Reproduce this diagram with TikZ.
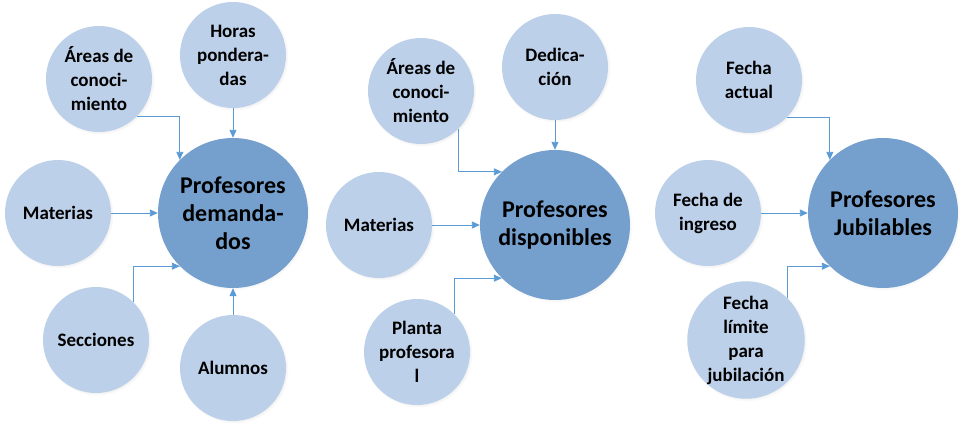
\documentclass[tikz,border=0pt]{standalone}
\usepackage{fontspec}
\setmainfont{Carlito}
\usetikzlibrary{arrows.meta,shadows}
\definecolor{paleblue}{RGB}{189, 208, 233}
\definecolor{midblue}{RGB}{117, 160, 206}
\definecolor{arrowblue}{RGB}{91, 155, 213}

\begin{document}
\begin{tikzpicture}[x=1pt,y=-1pt,
    small/.style={circle,fill=paleblue,minimum size=106pt,inner sep=0pt,align=center,
        font=\fontsize{19}{24}\selectfont\bfseries,
        circular drop shadow={shadow scale=1.03,shadow xshift=1pt,shadow yshift=-1pt,opacity=0.25}},
    big/.style={circle,fill=midblue,minimum size=150pt,inner sep=0pt,align=center,
        font=\fontsize{24}{28}\selectfont\bfseries,
        circular drop shadow={shadow scale=1.02,shadow xshift=1pt,shadow yshift=-1pt,opacity=0.25}},
    feed/.style={draw=arrowblue,line width=0.9pt,-{Triangle[length=8pt,width=7pt]}}]
        \useasboundingbox (0,0) rectangle (965,429);

        % Profesores demandados
        \node[big] (pdem) at (233,213) {Profesores\\demanda-\\dos};
        \node[small] (areas1) at (99,79) {Áreas de\\conoci-\\miento};
        \node[small] (horas) at (233,55) {Horas\\pondera-\\das};
        \node[small] (mat1) at (58,213) {Materias};
        \node[small] (secc) at (96,340) {Secciones};
        \node[small] (alum) at (233,368) {Alumnos};

        \draw[feed] (areas1.-45) -| (pdem.135);
        \draw[feed] (horas.south) -- (pdem.north);
        \draw[feed] (mat1.east) -- (pdem.west);
        \draw[feed] (secc.45) |- (pdem.-135);
        \draw[feed] (alum.north) -- (pdem.south);

        % Profesores disponibles
        \node[big] (pdisp) at (555,225) {Profesores\\disponibles};
        \node[small] (areas2) at (421,91) {Áreas de\\conoci-\\miento};
        \node[small] (dedic) at (555,67) {Dedica-\\ción};
        \node[small] (mat2) at (379,225) {Materias};
        \node[small] (planta) at (417,352) {Planta\\profesora\\l};

        \draw[feed] (areas2.-45) |- (pdisp.135);
        \draw[feed] (dedic.south) -- (pdisp.north);
        \draw[feed] (mat2.east) -- (pdisp.west);
        \draw[feed] (planta.45) |- (pdisp.-135);

        % Profesores jubilables
        \node[big] (pjub) at (883,213) {Profesores\\Jubilables};
        \node[small] (factual) at (749,80) {Fecha\\actual};
        \node[small] (fingreso) at (708,213) {Fecha de\\ingreso};
        \node[small] (flimite) at (746,340) {Fecha\\límite\\para\\jubilación};

        \draw[feed] (factual.-45) -| (pjub.135);
        \draw[feed] (fingreso.east) -- (pjub.west);
        \draw[feed] (flimite.45) |- (pjub.-135);
    \end{tikzpicture}
\end{document}
